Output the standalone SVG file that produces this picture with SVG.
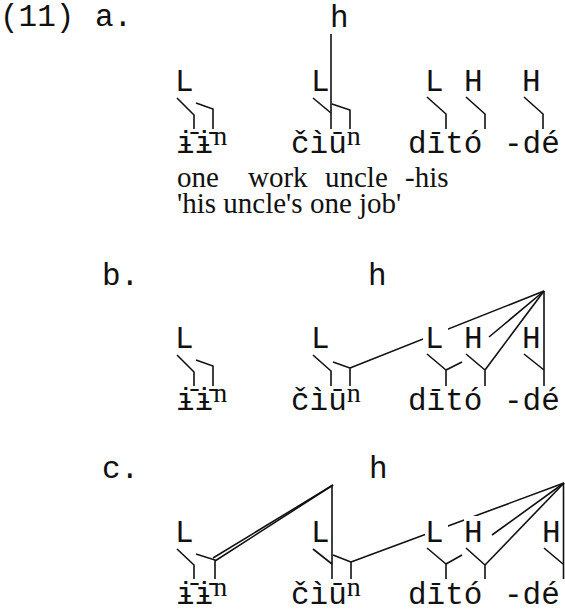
<svg xmlns="http://www.w3.org/2000/svg" width="565" height="610" viewBox="0 0 565 610">
<style>
.m{font-family:"Liberation Mono","DejaVu Sans Mono",monospace;font-size:31px;fill:#111}
.s{font-family:"Liberation Serif","DejaVu Serif",serif;font-size:29px;fill:#111}
.sup{font-family:"Liberation Serif","DejaVu Serif",serif;font-size:28px}
.ln{fill:none;stroke:#111;stroke-width:1.6;stroke-linejoin:miter;stroke-linecap:butt}
.bg{fill:#fff}
</style>
<rect width="565" height="610" fill="#fff"/>
<g id="labels">
<text class="m" x="0" y="26">(11)</text>
<text class="m" x="95" y="26">a.</text>
<text class="m" x="102" y="285">b.</text>
<text class="m" x="102" y="478">c.</text>
</g>
<g id="connectors">
<!-- (a) -->
<path class="ln" d="M177,98 L194,115 L194,129"/>
<path class="ln" d="M196,103 L213,109 L213,129"/>
<path class="ln" d="M313,98 L331,113"/>
<path class="ln" d="M331,34 L331,129"/>
<path class="ln" d="M332,104 L350,110 L350,129"/>
<path class="ln" d="M427,97 L446,114 L446,129"/>
<path class="ln" d="M466,97 L485,114 L485,129"/>
<path class="ln" d="M524,97 L543,114 L543,129"/>
<!-- (b) -->
<path class="ln" d="M177,355 L194,372 L194,386"/>
<path class="ln" d="M196,360 L213,366 L213,386"/>
<path class="ln" d="M313,355 L331,371 L331,386"/>
<path class="ln" d="M333,362 L350,368 L350,386"/>
<path class="ln" d="M350,368 L544,291"/>
<path class="ln" d="M427,354 L446,370 L446,386"/>
<path class="ln" d="M446,370 L462,362"/>
<path class="ln" d="M466,354 L485,370 L485,386"/>
<path class="ln" d="M544,291 L485,370"/>
<path class="ln" d="M544,291 L489,337"/>
<path class="ln" d="M524,354 L544,370"/>
<path class="ln" d="M544,291 L544,386"/>
<!-- (c) -->
<path class="ln" d="M177,549 L194,565 L194,579"/>
<path class="ln" d="M196,554 L215,560 L215,579"/>
<path class="ln" d="M213,558 L333,485"/>
<path class="ln" d="M215,561 L333,485"/>
<path class="ln" d="M313,549 L332,564"/>
<path class="ln" d="M332,485 L332,579"/>
<path class="ln" d="M333,555 L351,562 L351,579"/>
<path class="ln" d="M351,562 L564,483"/>
<path class="ln" d="M427,548 L446,564 L446,579"/>
<path class="ln" d="M446,564 L462,555"/>
<path class="ln" d="M466,548 L485,565 L485,579"/>
<path class="ln" d="M564,483 L485,565"/>
<path class="ln" d="M564,483 L492,535"/>
<path class="ln" d="M544,548 L563,564"/>
<path class="ln" d="M563.5,483 L563.5,579"/>
</g>
<!-- (a) nodes -->
<g id="a-h"><text class="m" x="330" y="27">h</text></g>
<g id="a-L1"><text class="m" x="175" y="91">L</text></g>
<g id="a-L2"><text class="m" x="311" y="91">L</text></g>
<g id="a-L3"><text class="m" x="425" y="91">L</text></g>
<g id="a-H1"><text class="m" x="464" y="91">H</text></g>
<g id="a-H2"><text class="m" x="522" y="91">H</text></g>
<g id="a-w1"><text class="m" x="176" y="153">ɨ̄ɨ̄<tspan class="sup" dy="-8">n</tspan></text></g>
<g id="a-w2"><text class="m" x="291" y="153">čìū<tspan class="sup" dy="-8">n</tspan></text></g>
<g id="a-w3"><text class="m" x="408" y="153">dītó</text></g>
<g id="a-w4"><text class="m" x="504" y="153">-dé</text></g>
<g id="a-gloss">
<text class="s" x="177" y="187">one</text>
<text class="s" x="248" y="187">work</text>
<text class="s" x="325" y="187">uncle</text>
<text class="s" x="405" y="187">-his</text>
<text class="s" x="177" y="213">'his uncle's one job'</text>
</g>
<!-- (b) nodes -->
<g id="b-h"><text class="m" x="368" y="285">h</text></g>
<g id="b-L1"><text class="m" x="175" y="348">L</text></g>
<g id="b-L2"><text class="m" x="311" y="348">L</text></g>
<g id="b-L3"><rect class="bg" x="423" y="325" width="25" height="25"/><text class="m" x="425" y="348">L</text></g>
<g id="b-H1"><rect class="bg" x="464" y="325" width="24" height="25"/><text class="m" x="464" y="348">H</text></g>
<g id="b-H2"><text class="m" x="522" y="348">H</text></g>
<g id="b-w1"><text class="m" x="176" y="410">ɨ̄ɨ̄<tspan class="sup" dy="-8">n</tspan></text></g>
<g id="b-w2"><text class="m" x="291" y="410">čìū<tspan class="sup" dy="-8">n</tspan></text></g>
<g id="b-w3"><text class="m" x="408" y="410">dītó</text></g>
<g id="b-w4"><text class="m" x="504" y="410">-dé</text></g>
<!-- (c) nodes -->
<g id="c-h"><text class="m" x="369" y="478">h</text></g>
<g id="c-L1"><text class="m" x="175" y="542">L</text></g>
<g id="c-L2"><text class="m" x="311" y="542">L</text></g>
<g id="c-L3"><rect class="bg" x="425" y="518" width="23" height="26"/><text class="m" x="425" y="542">L</text></g>
<g id="c-H1"><rect class="bg" x="464" y="516" width="23" height="28"/><text class="m" x="464" y="542">H</text></g>
<g id="c-H2"><text class="m" x="542" y="542">H</text></g>
<g id="c-w1"><text class="m" x="176" y="604">ɨ̄ɨ̄<tspan class="sup" dy="-8">n</tspan></text></g>
<g id="c-w2"><text class="m" x="291" y="604">čìū<tspan class="sup" dy="-8">n</tspan></text></g>
<g id="c-w3"><text class="m" x="408" y="604">dītó</text></g>
<g id="c-w4"><text class="m" x="504" y="604">-dé</text></g>
</svg>
